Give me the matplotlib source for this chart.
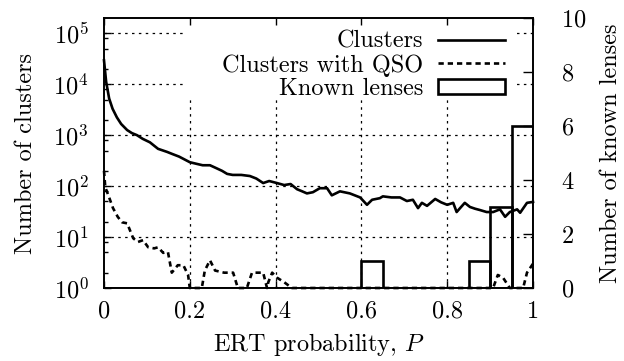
import numpy as np
import matplotlib
matplotlib.use("Agg")
import matplotlib.pyplot as plt
from matplotlib.patches import Rectangle
from matplotlib.ticker import FixedLocator, NullFormatter

plt.rcParams["font.family"] = "serif"
plt.rcParams["font.serif"] = ["cmr10"]
plt.rcParams["mathtext.fontset"] = "cm"
plt.rcParams["axes.formatter.use_mathtext"] = True
plt.rcParams["font.size"] = 17.5

# ERT probability grid and cluster counts
p_clusters = [0.0, 0.005, 0.012, 0.02, 0.03, 0.04, 0.054, 0.065, 0.077, 0.09,
              0.107, 0.126, 0.147, 0.16, 0.175, 0.2, 0.215, 0.23, 0.247, 0.26,
              0.275, 0.287, 0.3, 0.32, 0.34, 0.355, 0.371, 0.385, 0.403, 0.42,
              0.435, 0.45, 0.462, 0.473, 0.487, 0.503, 0.52, 0.531, 0.55, 0.573,
              0.597, 0.613, 0.625, 0.643, 0.65, 0.67, 0.69, 0.706, 0.72, 0.732,
              0.741, 0.753, 0.772, 0.786, 0.8, 0.814, 0.822, 0.83, 0.841, 0.853,
              0.865, 0.876, 0.892, 0.907, 0.923, 0.935, 0.946, 0.963, 0.97, 0.986,
              1.0]
n_clusters = [29500, 11200, 5250, 3300, 2240, 1660, 1260, 1100, 1000, 850,
              725, 540, 470, 425, 380, 295, 275, 257, 257, 229,
              200, 174, 166, 166, 158, 141, 115, 126, 115, 105,
              110, 87, 79, 72, 76, 91, 91, 66, 79, 72,
              60, 43, 54, 58, 63, 60, 60, 51, 54, 37,
              47, 41, 56, 48, 43, 47, 31, 37, 47, 39,
              36, 34, 31, 31, 35, 25, 31, 35, 30, 47,
              49]

p_qso = [0.0, 0.003, 0.012, 0.021, 0.032, 0.042, 0.054, 0.068, 0.079, 0.091,
         0.103, 0.117, 0.126, 0.138, 0.149, 0.158, 0.172, 0.185, 0.196, 0.2,
         0.228, 0.235, 0.247, 0.259, 0.28, 0.301, 0.312, 0.333, 0.345, 0.371,
         0.38, 0.383, 0.392, 0.403, 0.42, 0.438, 0.907, 0.918, 0.93, 0.946,
         0.977, 0.986, 1.0]
n_qso = [200, 95, 60, 37, 25, 19.5, 18.6, 9.5, 8, 8.7,
         6.3, 6, 6.3, 4.9, 5.1, 2, 2.8, 2.8, 1.8, 1,
         1, 2.2, 3.5, 2.2, 2, 2, 1, 1, 2, 2,
         1, 1.3, 2, 1.6, 1.3, 1, 1, 1.8, 1.6, 1,
         1, 2, 3]

# known lenses histogram, bins of 0.05
lens_bins = np.arange(0, 1, 0.05)
lens_counts = [0, 0, 0, 0, 0, 0, 0, 0, 0, 0,
               0, 0, 1, 0, 0, 0, 0, 1, 3, 6]

fig = plt.figure(figsize=(6.24, 3.61), dpi=100)
ax = fig.add_axes([104 / 624, 73 / 361, 429 / 624, 270 / 361])
ax2 = ax.twinx()

ax.set_yscale("log")
ax.set_xlim(0, 1)
ax.set_ylim(1, 2e5)
ax2.set_ylim(0, 10)

dotted = (0, (2, 3.5))
for v in [10, 100, 1000, 1e4, 1e5]:
    ax.axhline(v, color="black", lw=0.9, ls=dotted, zorder=0)
for v in [0.2, 0.4, 0.6, 0.8]:
    ax.axvline(v, color="black", lw=0.9, ls=dotted, zorder=0)

# opaque key area, as gnuplot does
ax.add_patch(Rectangle((0.189, 0.70), 0.773, 0.30, transform=ax.transAxes,
                       facecolor="white", edgecolor="none", zorder=0.5))

l1, = ax.plot(p_clusters, n_clusters, color="black", lw=1.9,
              label="Clusters", clip_on=False)
l2, = ax.plot(p_qso, n_qso, color="black", lw=1.9, ls=(0, (2, 1.5)),
              label="Clusters with QSO", clip_on=False)
bars = ax2.bar(lens_bins, lens_counts, width=0.05, align="edge", fill=False,
               edgecolor="black", lw=1.9, label="Known lenses")

ax.set_xticks([0, 0.2, 0.4, 0.6, 0.8, 1.0])
ax.set_xticklabels(["0", "0.2", "0.4", "0.6", "0.8", "1"])
ax.yaxis.set_major_locator(FixedLocator([1, 10, 100, 1e3, 1e4, 1e5]))
ax.set_yticklabels([r"$10^{0}$", r"$10^{1}$", r"$10^{2}$",
                    r"$10^{3}$", r"$10^{4}$", r"$10^{5}$"])
minor = [m * 10 ** k for k in range(0, 5) for m in (2, 5, 8)]
ax.yaxis.set_minor_locator(FixedLocator(minor))
ax.yaxis.set_minor_formatter(NullFormatter())
ax2.set_yticks([0, 2, 4, 6, 8, 10])

ax.tick_params(axis="x", which="major", direction="in", top=True, length=5,
               width=1, pad=9)
ax.tick_params(axis="y", which="major", direction="in", length=5, width=1,
               pad=11)
ax.tick_params(axis="y", which="minor", direction="in", length=3, width=1)
ax2.tick_params(axis="y", direction="in", length=7, width=1, pad=20)

for a in (ax, ax2):
    for s in a.spines.values():
        s.set_linewidth(1.2)

ax.set_xlabel(r"ERT probability, $P$", labelpad=6)
ax.set_ylabel("Number of clusters", labelpad=12)
ax2.set_ylabel("Number of known lenses", labelpad=10)

leg = ax2.legend([l1, l2, bars], ["Clusters", "Clusters with QSO", "Known lenses"],
                 loc="upper right", bbox_to_anchor=(0.935, 0.953),
                 markerfirst=False, handlelength=2.75, handletextpad=0.62,
                 labelspacing=0.05, borderpad=0.0, borderaxespad=0.0,
                 handleheight=0.6, frameon=False)

fig.savefig("out.png", dpi=100)
